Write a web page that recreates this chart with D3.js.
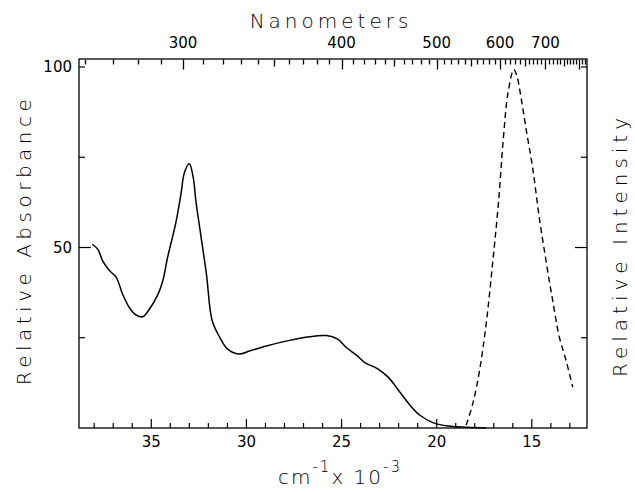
<!DOCTYPE html>
<html>
<head>
<meta charset="utf-8">
<script src="https://cdn.jsdelivr.net/npm/d3@7"></script>
<style>
  body { margin: 0; background: #fff; }
  text { font-family: "DejaVu Sans", sans-serif; fill: #000; }
  .title { font-weight: 200; }
</style>
</head>
<body>
<div class="chart"></div>
<script>
// absorbance spectrum (solid), wavenumber in cm^-1 x 10^-3
var absWavenumber = [38.1, 37.8, 37.55, 37.2, 36.85, 36.5, 36.15, 35.8, 35.45, 35.1, 34.65, 34.4, 34.15, 33.7, 33.45, 33.25, 33.0, 32.8, 32.65, 32.4, 32.1, 31.8, 31.4, 31.0, 30.4, 29.8, 28.9, 27.8, 26.8, 25.8, 25.2, 24.75, 24.2, 23.8, 23.1, 22.55, 22.0, 21.4, 20.9, 20.2, 19.5, 18.4, 17.4];
var absValue = [50.9, 49.4, 46.2, 43.6, 41.8, 37.0, 33.3, 31.3, 30.8, 32.9, 37.0, 40.7, 47.1, 57.1, 64.5, 70.9, 73.2, 69.5, 62.6, 53.5, 42.5, 29.7, 25.1, 21.9, 20.5, 21.4, 22.8, 24.2, 25.2, 25.6, 24.6, 22.3, 20.1, 18.2, 16.4, 14.1, 10.4, 6.3, 3.6, 1.5, 0.6, 0.2, 0];

// emission spectrum (dashed)
var emWavenumber = [18.45, 18.1, 17.75, 17.4, 17.05, 16.75, 16.5, 16.25, 15.95, 15.8, 15.55, 15.3, 14.95, 14.6, 14.25, 13.9, 13.55, 13.2, 12.85];
var emValue = [0.8, 6.8, 15.9, 28.8, 46.2, 62.6, 80.0, 92.9, 99.3, 97.8, 91.0, 82.8, 71.8, 58.0, 46.2, 35.2, 25.1, 18.7, 11.3];

var bottomTicks = [35, 30, 25, 20, 15];
var nmLabels = [300, 400, 500, 600, 700];
var nmMinor = d3.range(260, 830, 10);
var yLabels = [50, 100];

// plot box ("top" is taken on window, so keep these in an object)
var box = { left: 79, right: 587, top: 59, bottom: 428 };

var svg = d3.select(".chart").append("svg")
  .attr("width", 635)
  .attr("height", 492);

var x = d3.scaleLinear().domain([38.8, 12.1]).range([box.left, box.right]);
var y = d3.scaleLinear().domain([0, 100]).range([box.bottom, 67]);

// frame
svg.append("rect")
  .attr("x", box.left).attr("y", box.top)
  .attr("width", box.right - box.left).attr("height", box.bottom - box.top)
  .attr("fill", "none").attr("stroke", "#000").attr("stroke-width", 1.3);

var tickG = svg.append("g").attr("stroke", "#000").attr("stroke-width", 1.2);

// bottom axis: every 1000 cm-1, longer at 5s
tickG.selectAll(".bt").data(d3.range(13, 39)).join("line").attr("class", "bt")
  .attr("x1", d => x(d)).attr("x2", d => x(d))
  .attr("y1", box.bottom).attr("y2", d => box.bottom - (d % 5 === 0 ? 9 : 5));

svg.append("g").selectAll("text").data(bottomTicks).join("text")
  .attr("x", d => x(d)).attr("y", 447)
  .attr("text-anchor", "middle").attr("font-size", 15)
  .text(d => d);
svg.append("g").selectAll("text").data(nmLabels).join("text")
  .attr("x", d => x(10000 / d)).attr("y", 48)
  .attr("text-anchor", "middle").attr("font-size", 15)
  .text(d => d);

// left and right ticks
var sideTicks = [25, 50, 75, 100];
tickG.selectAll(".l").data(sideTicks).join("line").attr("class", "l")
  .attr("x1", box.left).attr("x2", d => box.left + (d === 50 ? 12 : 6))
  .attr("y1", d => y(d)).attr("y2", d => y(d));
tickG.selectAll(".r").data(sideTicks).join("line").attr("class", "r")
  .attr("x1", box.right).attr("x2", d => box.right - (d === 50 ? 12 : 6))
  .attr("y1", d => y(d)).attr("y2", d => y(d));
svg.append("g").selectAll("text").data(yLabels).join("text")
  .attr("x", 72).attr("y", d => y(d) + 5)
  .attr("text-anchor", "end").attr("font-size", 15)
  .text(d => d);

// curves
var line = d3.line()
  .x(d => x(d[0]))
  .y(d => y(d[1]))
  .curve(d3.curveCatmullRom.alpha(0.5));

svg.append("path")
  .datum(d3.zip(absWavenumber, absValue))
  .attr("d", line)
  .attr("fill", "none").attr("stroke", "#000").attr("stroke-width", 1.5);

svg.append("path")
  .datum(d3.zip(emWavenumber, emValue))
  .attr("d", line)
  .attr("fill", "none").attr("stroke", "#000").attr("stroke-width", 1.4)
  .attr("stroke-dasharray", "6,4");

// top axis in nanometers, every 10 nm, longer at 50 and 100 (drawn last)
var nmPath = nmMinor.filter(nm => x(10000 / nm) < box.right - 1).map(function(nm) {
  var len = nm % 100 === 0 ? 10 : (nm % 50 === 0 ? 7 : 5);
  var px = Math.round(x(10000 / nm)) + 0.5;
  return "M" + px + "," + (box.top + 0.5) + "V" + (box.top + 0.5 + len);
}).join("");
svg.append("path")
  .attr("d", nmPath)
  .attr("fill", "none").attr("stroke", "#000").attr("stroke-width", 1.3);

// titles
svg.append("text").attr("class", "title")
  .attr("x", 331).attr("y", 28)
  .attr("text-anchor", "middle").attr("font-size", 20)
  .attr("letter-spacing", 4)
  .text("Nanometers");

svg.append("text").attr("class", "title")
  .attr("transform", "translate(31,240) rotate(-90)")
  .attr("text-anchor", "middle").attr("font-size", 20)
  .attr("letter-spacing", 4.5)
  .text("Relative Absorbance");

svg.append("text").attr("class", "title")
  .attr("transform", "translate(627,245) rotate(-90)")
  .attr("text-anchor", "middle").attr("font-size", 20)
  .attr("letter-spacing", 5)
  .text("Relative Intensity");

var xt = svg.append("text").attr("class", "title")
  .attr("x", 340).attr("y", 484)
  .attr("text-anchor", "middle").attr("font-size", 20)
  .attr("letter-spacing", 2);
xt.append("tspan").text("cm");
xt.append("tspan").attr("dy", -12).attr("font-size", 15).text("-1");
xt.append("tspan").attr("dy", 12).text("x 10");
xt.append("tspan").attr("dy", -12).attr("font-size", 15).text("-3");
</script>
</body>
</html>
